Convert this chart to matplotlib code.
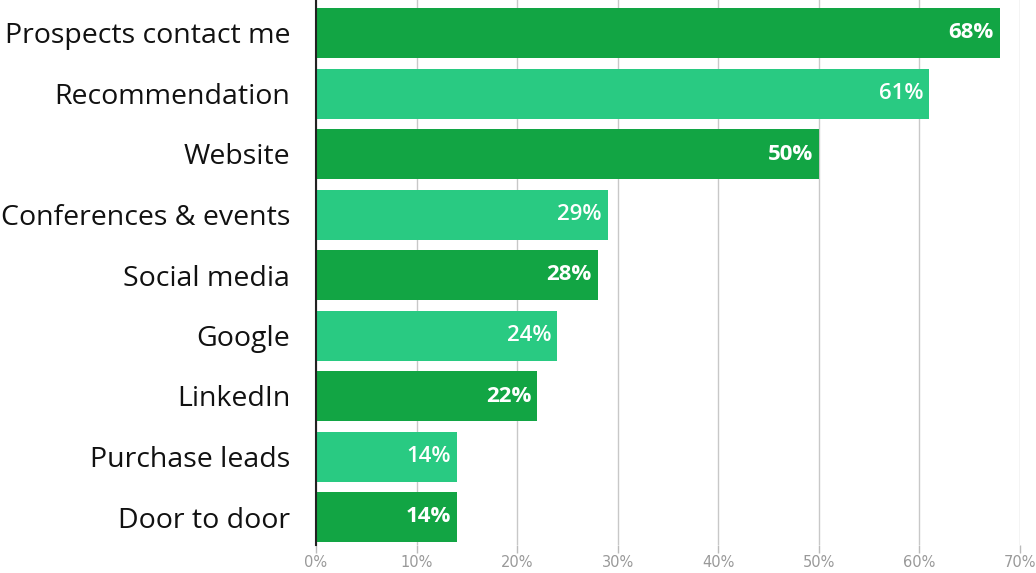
import numpy as np
import matplotlib.pyplot as plt

categories = ["Prospects contact me", "Recommendation", "Website",
              "Conferences & events", "Social media", "Google",
              "LinkedIn", "Purchase leads", "Door to door"]
values = [68, 61, 50, 29, 28, 24, 22, 14, 14]
tick_vals = [0, 10, 20, 30, 40, 50, 60, 70]

dark = "#12a544"
light = "#29ca82"

fig = plt.figure(figsize=(10.36, 5.73), dpi=100)
ax = fig.add_axes([316/1036, 1 - 545/573, (1020 - 316)/1036, 545/573])

pitch = 60.5
y = np.arange(len(categories))
colors = [dark if i % 2 == 0 else light for i in range(len(categories))]
ax.barh(y, values, height=50/pitch, color=colors, zorder=3)

for i, v in enumerate(values):
    ax.text(v - 0.6, i, f"{v}%", ha="right", va="center", color="white",
            fontsize=16, fontweight="bold" if i % 2 == 0 else "semibold",
            family="Open Sans", zorder=4)

ax.set_xlim(0, 70)
ax.set_ylim((545 - 33)/pitch, -33/pitch)
ax.set_xticks(tick_vals)
ax.set_xticklabels([f"{t}%" for t in tick_vals], color="#999999", fontsize=10.5)
ax.set_yticks(y)
ax.set_yticklabels(categories, fontsize=20.5, family="Open Sans", color="#111111")
ax.tick_params(axis="y", length=0, pad=18.5)
ax.tick_params(axis="x", length=6, color="#bbbbbb", width=1, pad=1)
ax.grid(axis="x", color="#c8c8c8", linewidth=1, zorder=0)
for s in ["top", "right", "bottom"]:
    ax.spines[s].set_visible(False)
ax.spines["left"].set_color("#222222")
ax.spines["left"].set_linewidth(1.5)
ax.spines["left"].set_zorder(5)

fig.savefig("out.png", dpi=100)
